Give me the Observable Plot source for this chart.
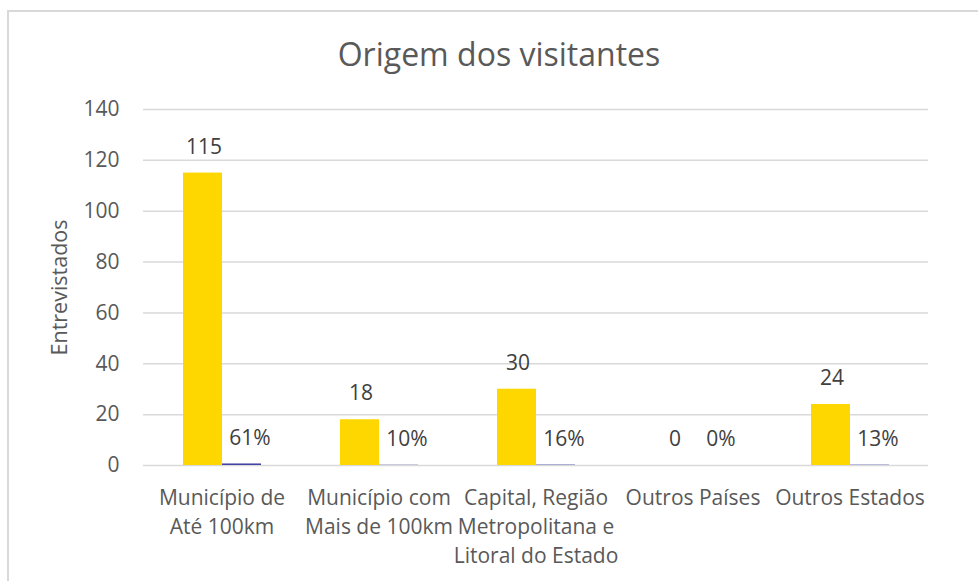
<!DOCTYPE html>
<html>
<head>
<meta charset="utf-8">
<script src="https://cdn.jsdelivr.net/npm/d3@7"></script>
<script src="https://cdn.jsdelivr.net/npm/@observablehq/plot@0.6"></script>
<style>
  html, body { margin: 0; padding: 0; background: #fff; overflow: hidden; }
  #wrap { position: relative; width: 978px; height: 581px; overflow: hidden; font-family: "Open Sans", sans-serif; }
  #frame { position: absolute; left: 7px; top: 10px; width: 1000px; height: 700px; border: 2px solid #d9d9d9; box-sizing: border-box; }
  #title { position: absolute; left: 0; top: 32px; width: 998px; text-align: center; font-size: 32px; line-height: 44px; color: #595959; }
  #chart { position: absolute; left: 0; top: 0; }
</style>
</head>
<body>
<div id="wrap">
  <div id="frame"></div>
  <div id="chart"></div>
  <div id="title">Origem dos visitantes</div>
</div>
<script>
const categories = ["Município de Até 100km", "Município com Mais de 100km", "Capital, Região Metropolitana e Litoral do Estado", "Outros Países", "Outros Estados"];
const categoryLabels = ["Município de\nAté 100km", "Município com\nMais de 100km", "Capital, Região\nMetropolitana e\nLitoral do Estado", "Outros Países", "Outros Estados"];
const counts = [115, 18, 30, 0, 24];
const percents = [0.61, 0.10, 0.16, 0, 0.13];
const yTicks = [0, 20, 40, 60, 80, 100, 120, 140];
const yTitle = "Entrevistados";

const rows = [];
categories.forEach((c, i) => {
  rows.push({cat: c, series: "n", value: counts[i], label: String(counts[i])});
  rows.push({cat: c, series: "p", value: percents[i], label: Math.round(percents[i] * 100) + "%"});
});
const labelOf = new Map(categories.map((c, i) => [c, categoryLabels[i]]));

const chart = Plot.plot({
  width: 978,
  height: 581,
  marginLeft: 142,
  marginRight: 49,
  marginTop: 109,
  marginBottom: 116,
  style: {fontFamily: "'Open Sans', sans-serif", fontSize: "21px", color: "#595959", background: "transparent", overflow: "visible"},
  fx: {domain: categories, padding: 0},
  x: {domain: ["n", "p"], paddingInner: 0, paddingOuter: 1, axis: null},
  y: {domain: [0, 140]},
  color: {domain: ["n", "p"], range: ["#FFD700", "#4343a3"]},
  marks: [
    Plot.gridY(yTicks, {stroke: "#d9d9d9", strokeOpacity: 1, strokeWidth: 1.5}),
    Plot.barY(rows, {fx: "cat", x: "series", y: "value", fill: "series", insetLeft: 0, insetRight: 0}),
    Plot.text(rows.filter(d => d.series === "n"), {fx: "cat", x: "series", y: "value", text: "label", dy: -26, dx: 1, fontSize: 21, fill: "#404040"}),
    Plot.text(rows.filter(d => d.series === "p"), {fx: "cat", x: "series", y: "value", text: "label", dy: -26, dx: 8, fontSize: 21, fill: "#404040"}),
    Plot.axisY(yTicks, {tickSize: 0, tickPadding: 24, fontSize: 21, label: null}),
    Plot.text([yTitle], {text: d => d, frameAnchor: "left", textAnchor: "middle", lineAnchor: "middle", dx: -83, rotate: -90, fontSize: 21.5, fill: "#595959", facetAnchor: "left"}),
    Plot.axisFx({anchor: "bottom", tickSize: 0, tickPadding: 19, fontSize: 21, lineHeight: 1.38, label: null, tickFormat: d => labelOf.get(d)})
  ]
});
document.getElementById("chart").appendChild(chart);
</script>
</body>
</html>
